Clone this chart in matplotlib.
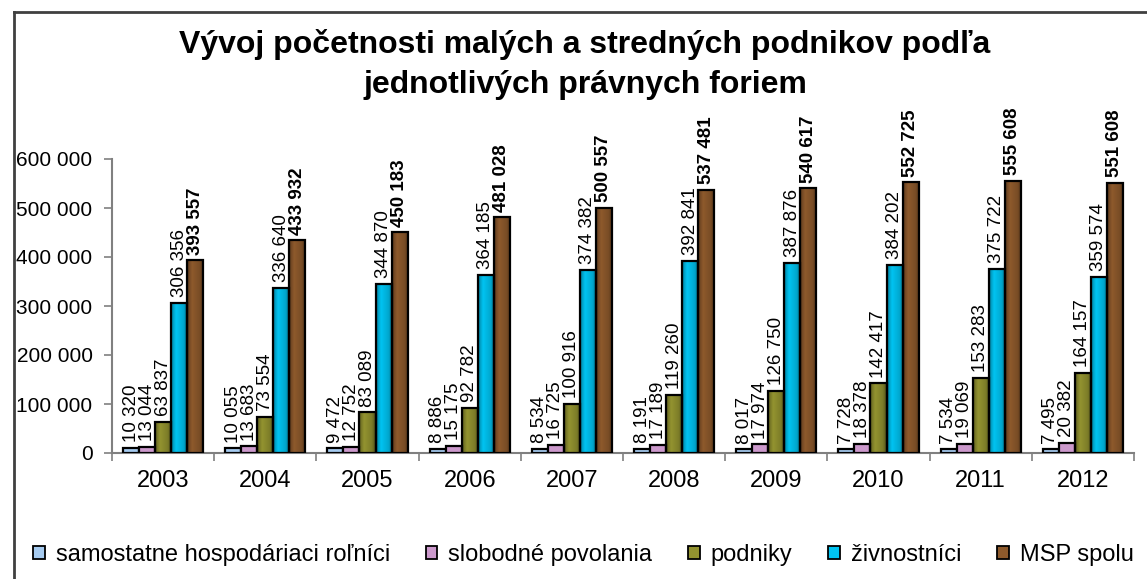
import numpy as np
import matplotlib
matplotlib.use("Agg")
import matplotlib.pyplot as plt
from matplotlib.patches import Patch
from matplotlib.lines import Line2D
from matplotlib.colors import to_rgb

years = ["2003", "2004", "2005", "2006", "2007", "2008", "2009", "2010", "2011", "2012"]
series_names = ["samostatne hospodáriaci roľníci", "slobodné povolania", "podniky",
                "živnostníci", "MSP spolu"]
samostatne = [10320, 10055, 9472, 8886, 8534, 8191, 8017, 7728, 7534, 7495]
slobodne = [13044, 13683, 12752, 15175, 16725, 17189, 17974, 18378, 19069, 20382]
podniky = [63837, 73554, 83089, 92782, 100916, 119260, 126750, 142417, 153283, 164157]
zivnostnici = [306356, 336640, 344870, 364185, 374382, 392841, 387876, 384202, 375722, 359574]
msp_spolu = [393557, 433932, 450183, 481028, 500557, 537481, 540617, 552725, 555608, 551608]
yticks = [0, 100000, 200000, 300000, 400000, 500000, 600000]

series = [samostatne, slobodne, podniky, zivnostnici, msp_spolu]
colors = ["#a6cbf0", "#cc99cc", "#939330", "#00c4f2", "#8e5a2c"]
gradient = [False, False, True, True, True]

plt.rcParams['font.family'] = ['Liberation Sans', 'DejaVu Sans']

W, H = 1147, 579
fig = plt.figure(figsize=(W / 100, H / 100), dpi=100)
ax = fig.add_axes([112 / W, 1 - 453 / H, (1134 - 112) / W, (453 - 159) / H])

def fmt(v):
    return f"{v:,}".replace(",", " ")

bw = 0.157
gap = (1 - 5 * bw) / 2
t = np.linspace(0, 1, 64)
prof = np.interp(t, [0, 0.08, 0.3, 0.75, 1.0], [0.35, 0.75, 1.0, 0.85, 0.55])

for s, (vals, col, grad) in enumerate(zip(series, colors, gradient)):
    base = np.array(to_rgb(col))
    xs = np.arange(len(years)) + gap + s * bw
    for x0, v in zip(xs, vals):
        if grad:
            img = np.clip(base[None, :] * prof[:, None], 0, 1)[None, :, :]
            ax.imshow(img, extent=[x0, x0 + bw, 0, v], aspect='auto',
                      interpolation='bilinear', zorder=2)
        ax.bar(x0, v, width=bw, align='edge', facecolor=('none' if grad else col),
               edgecolor='black', linewidth=1.6, zorder=3)
        ax.annotate(fmt(v), (x0 + bw / 2, v), xytext=(0, 4), textcoords='offset points',
                    rotation=90, ha='center', va='bottom', fontsize=13.5,
                    fontweight=('bold' if s == 4 else 'normal'), annotation_clip=False,
                    clip_on=False, zorder=4)

ax.set_xlim(0, len(years))
ax.set_ylim(0, 600000)
ax.set_yticks(yticks)
ax.set_yticklabels([fmt(v) for v in yticks], fontsize=15)
ax.set_xticks(np.arange(len(years) + 1))
ax.set_xticklabels([])
ax.set_xticks(np.arange(len(years)) + 0.5, minor=True)
ax.set_xticklabels(years, minor=True, fontsize=17)
ax.tick_params(axis='x', which='minor', length=0, pad=12)
ax.tick_params(axis='x', which='major', length=6, color='#808080', width=1.2)
ax.tick_params(axis='y', length=6, color='#808080', width=1.2, pad=8)
for sp in ['top', 'right']:
    ax.spines[sp].set_visible(False)
for sp in ['left', 'bottom']:
    ax.spines[sp].set_color('#808080')
    ax.spines[sp].set_linewidth(1.5)

title_font = ['Liberation Sans Narrow', 'Liberation Sans', 'DejaVu Sans']
fig.text(585 / W, 1 - 45 / H, "Vývoj početnosti malých a stredných podnikov podľa",
         ha='center', va='center', fontsize=23, fontweight='bold', family=title_font)
fig.text(585 / W, 1 - 85 / H, "jednotlivých právnych foriem",
         ha='center', va='center', fontsize=23, fontweight='bold', family=title_font)

handles = [Patch(facecolor=c, edgecolor='black', linewidth=1.3) for c in colors]
fig.legend(handles, series_names, loc='center left', bbox_to_anchor=(33 / W, 1 - 555 / H),
           ncol=5, frameon=False, fontsize=17, handlelength=0.5, handleheight=0.5,
           handletextpad=0.47, columnspacing=1.5, borderaxespad=0, borderpad=0)

# outer chart frame (left and top edges visible)
fx = 14 / W
fy = 1 - 12 / H
fig.add_artist(Line2D([fx, fx], [0, fy], transform=fig.transFigure, color='#404040', linewidth=2))
fig.add_artist(Line2D([fx, 1], [fy, fy], transform=fig.transFigure, color='#404040', linewidth=2))

fig.savefig("out.png", dpi=100)
